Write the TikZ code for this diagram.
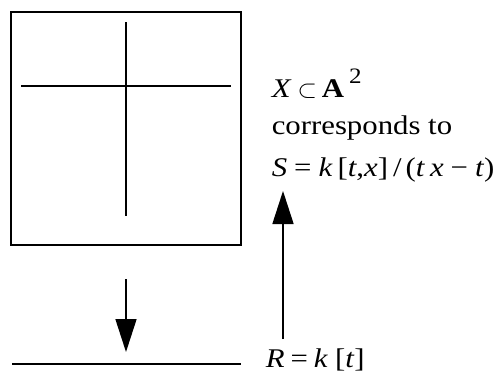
\documentclass[tikz,border=0pt]{standalone}
\usepackage{fontspec}
\setmainfont{Liberation Serif}[FakeStretch=1.14]
\usepackage{tikz}
\usetikzlibrary{arrows.meta,positioning}

\begin{document}
\begin{tikzpicture}[x=1pt, y=-1pt, line width=1.6pt,
    every node/.style={font=\fontsize{27}{32}\selectfont, inner sep=0pt},
    map/.style={-{Triangle[length=33pt,width=21pt]}}]
  \useasboundingbox (0,0) rectangle (498,372);

  %% The surface X: square with the two lines tx = t
  \draw (11,12) rectangle (241,245);
  \draw (21,86) -- (231,86);
  \draw (126,22) -- (126,216);

  %% Spec R, the base line
  \coordinate (baseL) at (12,364);
  \coordinate (baseR) at (241,364);
  \draw (baseL) -- (baseR);

  %% Labels
  \node[anchor=base west] (Xlab) at (271,97)
    {\textit{X}\kern6pt{\fontsize{31}{31}\selectfont$\subset$}\kern5pt\textbf{A}\kern5pt\raisebox{14pt}{\fontsize{22}{22}\selectfont 2}};
  \node[anchor=base west] (corr) at (271,134) {corresponds to};
  \node[anchor=base west] (Slab) at (271,176)
    {\textit{S}\kern7pt=\kern7pt\textit{k}\kern5pt[\textit{t},\textit{x}]\kern5pt/\kern4pt(\textit{t}\kern5pt\textit{x}\kern7pt−\kern7pt\textit{t})};
  \node[anchor=base west] (Rlab) at (265,367)
    {\textit{R}\kern6pt=\kern6pt\textit{k}\kern7pt[\textit{t}]};

  %% Projection X -> Spec R
  \coordinate (downtop) at (126,279);
  \coordinate (downtip) at (126,352);
  \draw[map] (downtop) -- (downtip);

  %% Inclusion R -> S
  \coordinate (upfoot) at (283,339);
  \coordinate (uptip) at (283,191);
  \draw[map] (upfoot) -- (uptip);
\end{tikzpicture}
\end{document}
